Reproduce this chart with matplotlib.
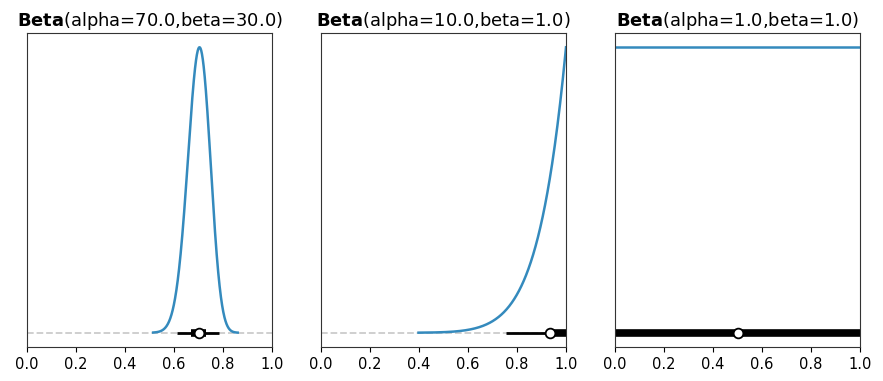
import math
import numpy as np
import matplotlib
matplotlib.use("Agg")
import matplotlib.pyplot as plt

alphas = [70.0, 10.0, 1.0]
betas = [30.0, 1.0, 1.0]
x_start = [0.515, 0.398, 0.0]
x_end = [0.86, 1.0, 1.0]
hdi94_low = [0.611, 0.755, 0.0]
hdi94_high = [0.784, 1.0, 1.0]
hdi50_low = [0.670, 0.933, 0.0]
hdi50_high = [0.732, 1.0, 1.0]
medians = [0.701, 0.933, 0.5]
xticks = [0.0, 0.2, 0.4, 0.6, 0.8, 1.0]

def beta_pdf(x, a, b):
    lb = math.lgamma(a) + math.lgamma(b) - math.lgamma(a + b)
    with np.errstate(divide="ignore"):
        return np.exp((a - 1) * np.log(x) + (b - 1) * np.log1p(-x) - lb)

fig = plt.figure(figsize=(8.83, 3.81), dpi=100)
lefts = [27, 321, 615]
width = 245
bottom_px, top_px = 347, 33
H = 381
W = 883
for i in range(3):
    ax = fig.add_axes([lefts[i] / W, 1 - bottom_px / H, width / W, (bottom_px - top_px) / H])
    xs = np.linspace(max(x_start[i], 1e-6), min(x_end[i], 1 - 1e-6), 500)
    ys = beta_pdf(xs, alphas[i], betas[i])
    ax.axhline(0, color="0.8", ls="--", lw=1.3, zorder=0)
    ax.plot(xs, ys, color="#348ABD", lw=1.8)
    ax.plot([hdi94_low[i], hdi94_high[i]], [0, 0], color="k", lw=2, solid_capstyle="butt")
    ax.plot([hdi50_low[i], hdi50_high[i]], [0, 0], color="k", lw=5.5, solid_capstyle="butt")
    ax.plot([medians[i]], [0], "o", mfc="white", mec="k", mew=1.3, ms=7, zorder=5)
    ax.set_xlim(0, 1)
    ax.set_xticks(xticks)
    ax.set_xticklabels([f"{t:.1f}" for t in xticks], fontsize=10.5)
    ax.set_yticks([])
    for s in ax.spines.values():
        s.set_color("0.2")
    ax.set_title(r"$\bf{Beta}$" + f"(alpha={alphas[i]:.1f},beta={betas[i]:.1f})", fontsize=12.9, pad=5)

fig.savefig("out.png", dpi=100)
